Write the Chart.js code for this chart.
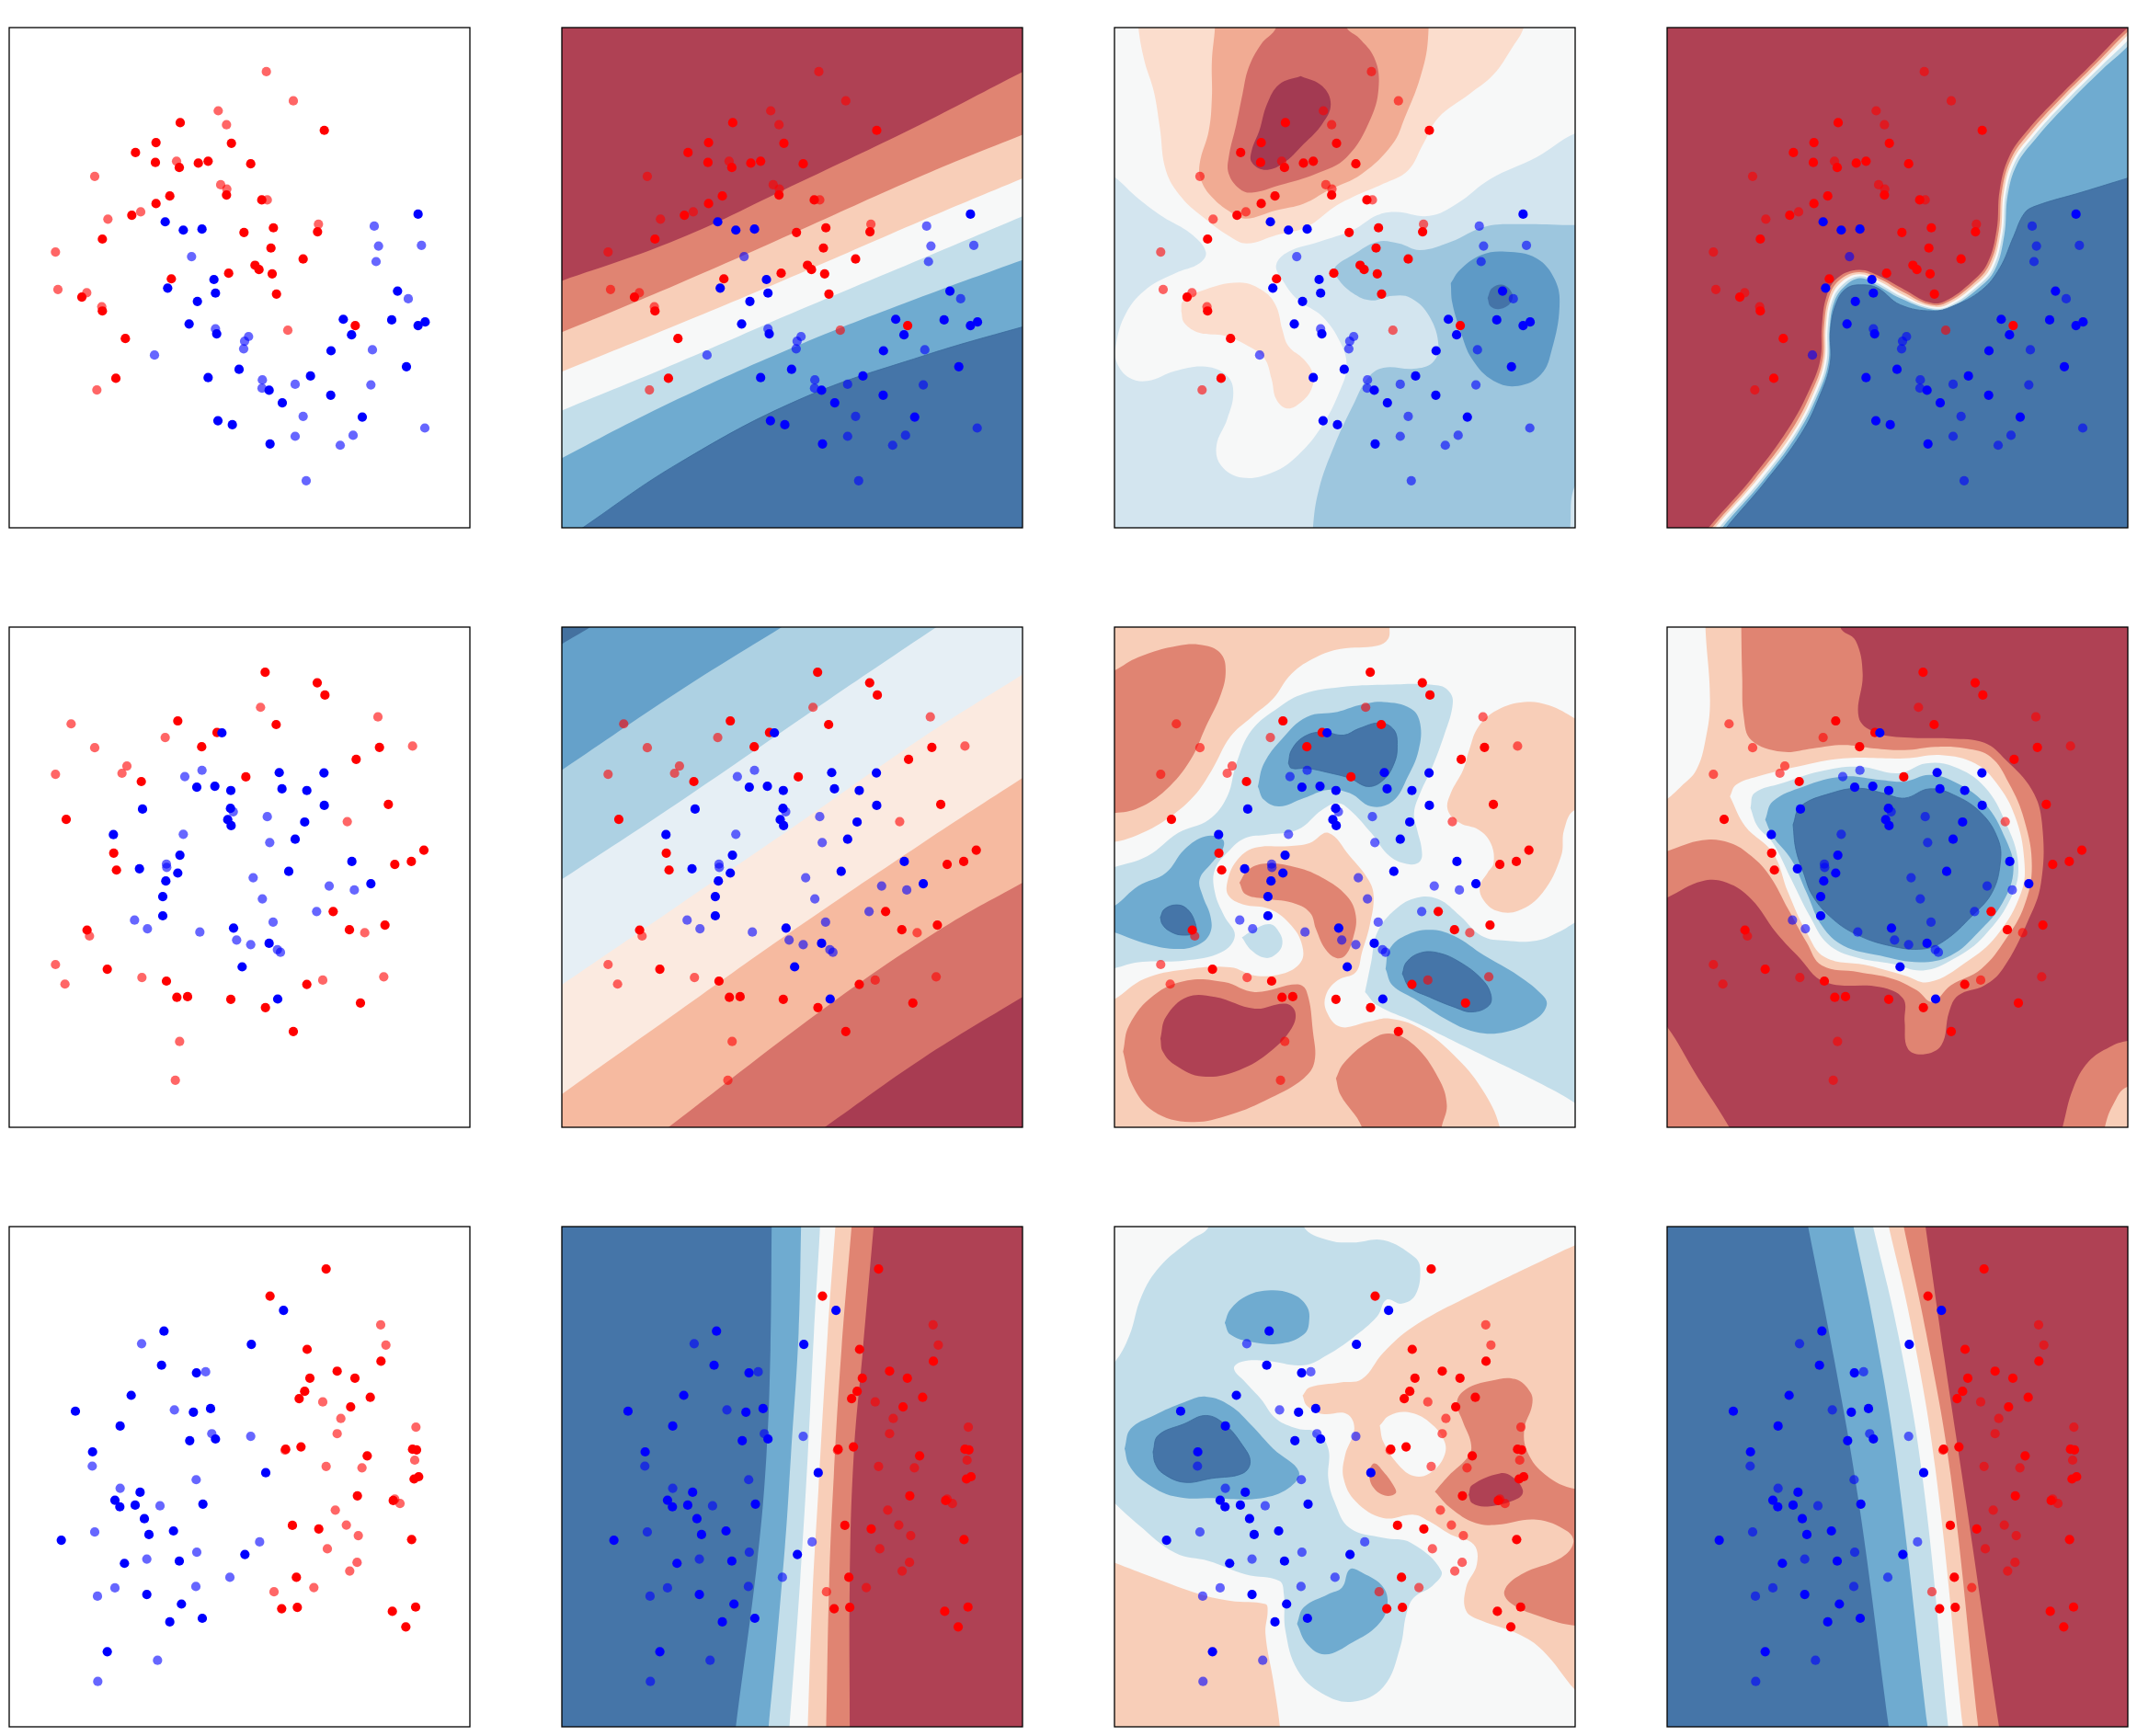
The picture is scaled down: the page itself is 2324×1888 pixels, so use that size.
<!DOCTYPE html>
<html><head><meta charset="utf-8">
<style>html,body{margin:0;padding:0;background:#fff;width:2324px;height:1888px;overflow:hidden}canvas{position:absolute;display:block}</style>
<script src="https://cdn.jsdelivr.net/npm/chart.js@4"></script></head><body>
<script>
// ---- measured points (read in the first-column frame)
const r1RedTrain=[[589,316],[1059,339],[510,376],[756,378],[443,406],[508,436],[586,451],[648,438],[680,432],[819,440],[740,534],[855,549],[555,537],[510,560],[431,595],[335,667],[893,633],[797,647],[1037,645],[885,694],[990,727],[833,746],[846,759],[889,772],[747,770],[560,787],[903,833],[268,842],[335,884],[410,967],[1160,928],[379,1087]];
const r1RedTest=[[870,162],[958,250],[713,280],[740,322],[577,432],[310,478],[721,503],[741,516],[873,549],[460,585],[353,607],[1040,622],[182,706],[190,819],[284,829],[333,871],[940,942],[317,1122]];
const r1BlueTrain=[[1365,592],[540,615],[599,640],[660,637],[699,789],[548,815],[704,830],[645,855],[1298,824],[1121,909],[1279,911],[1365,928],[1388,917],[618,923],[708,953],[1148,956],[1081,1004],[1327,1052],[781,1060],[680,1085],[1014,1080],[879,1123],[1080,1138],[922,1161],[1183,1204],[712,1215],[759,1227],[882,1285]];
const r1BlueTest=[[1222,628],[1236,688],[1376,686],[626,720],[1228,735],[1333,847],[704,938],[812,961],[799,975],[796,998],[1216,1001],[505,1017],[857,1092],[856,1117],[964,1105],[1211,1107],[990,1202],[964,1262],[1153,1259],[1111,1289],[1387,1237],[1000,1396]];
const r2RedTrain=[[866,165],[1036,197],[1061,234],[581,312],[902,323],[709,347],[659,390],[1239,392],[1163,428],[462,495],[803,481],[1268,564],[217,609],[372,711],[381,762],[1384,702],[1343,736],[1289,745],[1088,887],[1141,942],[1257,928],[285,943],[351,1061],[544,1097],[578,1146],[613,1144],[754,1152],[867,1177],[1002,1107],[1177,1163],[958,1249]];
const r2RedTest=[[851,271],[1234,300],[233,321],[540,362],[310,393],[1347,388],[415,448],[399,470],[182,473],[1134,616],[293,961],[1191,951],[182,1047],[213,1106],[464,1086],[1054,1094],[1253,1084],[587,1279],[573,1396]];
const r2BlueTrain=[[725,348],[912,468],[1058,469],[643,512],[702,509],[754,522],[921,517],[1002,522],[466,578],[753,576],[1059,567],[744,610],[755,628],[995,617],[371,655],[964,669],[588,717],[456,758],[581,771],[542,795],[943,766],[1149,736],[1211,803],[532,842],[532,900],[763,937],[879,983],[791,1054],[907,1151]];
const r2BlueTest=[[660,461],[604,480],[762,586],[873,601],[599,654],[881,679],[544,744],[545,754],[827,785],[1075,810],[1157,822],[857,849],[1034,887],[440,913],[482,939],[892,919],[653,949],[773,973],[819,987],[906,1002],[916,1010]];
const r3RedTrain=[[1065,157],[882,239],[1003,400],[1244,436],[1101,466],[1159,487],[1012,487],[995,527],[977,549],[1209,545],[1145,574],[933,702],[983,695],[1199,722],[1347,702],[1360,704],[1367,785],[1352,792],[1167,843],[1284,857],[955,932],[1041,943],[1344,975],[968,1089],[971,1180],[920,1184],[1357,1179],[1281,1192],[1325,1239]];
const r3RedTest=[[1243,326],[1260,387],[1054,559],[1113,609],[1101,655],[1358,635],[931,705],[1354,735],[1182,758],[1065,754],[1289,853],[1306,866],[1095,886],[1131,931],[1170,963],[1069,1003],[1166,1044],[1142,1070],[1025,1120],[895,1133]];
const r3BlueTrain=[[536,345],[926,282],[821,385],[528,448],[642,471],[429,539],[247,587],[632,590],[688,579],[393,632],[620,676],[704,671],[303,710],[868,773],[458,832],[376,856],[392,876],[442,871],[663,868],[472,912],[487,960],[567,949],[201,977],[407,1047],[586,1040],[800,1020],[480,1141],[593,1170],[555,1224],[661,1213],[351,1314]];
const r3BlueTest=[[463,383],[672,468],[570,583],[692,655],[819,663],[302,753],[641,794],[393,820],[523,873],[310,952],[848,982],[643,1013],[480,1034],[751,1089],[640,1117],[376,1121],[319,1146],[515,1340],[320,1404]];

// ---- colours
const DR='#AF4154',SA='#E08472',PE='#F8CEB8',WH='#F7F8F8',LB='#C3DEEA',MB='#6FABD0',DB='#4575A8';

// ---- region outlines, painted in order, each on top of the previous
const SE=[[1700,1700],[-100,1700]];
const c_r1c2=[
 [SA,[[-100,830],[22,793],[400,668],[800,495],[1200,318],[1526,163],[1700,85],...SE]],
 [PE,[[-100,990],[22,948],[400,803],[800,640],[1200,475],[1526,352],[1700,290],...SE]],
 [WH,[[-100,1112],[22,1067],[400,925],[800,770],[1200,610],[1526,484],[1700,417],...SE]],
 [LB,[[-100,1230],[22,1184],[400,1040],[800,880],[1200,725],[1526,598],[1700,530],...SE]],
 [MB,[[-100,1390],[22,1328],[400,1150],[800,985],[1200,840],[1526,730],[1700,672],...SE]],
 [DB,[[20,1585],[90,1538],[400,1345],[800,1150],[1200,1020],[1526,932],[1700,890],...SE]]
];
const c_r1c3=[
 ['#D3E5EF',[[-100,400],[22,480],[100,545],[180,600],[270,650],[320,705],[300,740],[220,770],[130,815],[60,890],[26,990],[30,1040],[70,1085],[130,1095],[220,1065],[320,1052],[390,1080],[410,1130],[390,1210],[355,1290],[370,1350],[440,1387],[540,1370],[620,1320],[700,1230],[760,1120],[780,1050],[760,980],[700,900],[620,850],[570,790],[550,745],[590,705],[690,675],[800,640],[880,595],[940,585],[1050,597],[1140,560],[1250,485],[1400,420],[1526,348],[1700,300],[1700,1700],[-100,1700]]],
 ['#FBDDCD',[[90,-100],[100,29],[120,130],[150,220],[170,330],[190,460],[240,540],[310,600],[400,660],[455,680],[550,655],[650,630],[740,570],[800,540],[900,500],[980,460],[1030,380],[1080,300],[1180,230],[1260,170],[1320,90],[1358,29],[1390,-100]]],
 ['#FBDDCD',[[240,885],[245,855],[300,825],[430,798],[510,825],[550,870],[570,940],[590,990],[640,1030],[670,1075],[665,1120],[630,1160],[585,1178],[550,1150],[535,1090],[510,1025],[450,985],[380,958],[300,950],[250,920],[240,885]]],
 ['#F1AB93',[[355,-100],[350,29],[340,130],[340,240],[330,340],[300,440],[305,490],[340,540],[400,585],[450,605],[550,580],[640,560],[720,520],[830,470],[930,380],[970,300],[1020,180],[1045,70],[1045,-100]]],
 ['#D36D68',[[590,-100],[550,29],[500,80],[460,150],[440,230],[420,320],[395,420],[395,470],[430,515],[470,527],[560,505],[680,470],[780,420],[860,300],[885,200],[870,120],[820,60],[780,29],[740,-100]]],
 ['#A33A52',[[630,175],[560,200],[520,260],[495,340],[470,400],[470,435],[510,458],[570,440],[640,380],[700,320],[728,260],[700,205],[630,175]]],
 ['#9DC6DE',[[665,1700],[670,1538],[690,1420],[740,1290],[800,1170],[850,1085],[900,1055],[1000,1058],[1060,1040],[1080,990],[1050,900],[990,845],[930,838],[860,852],[800,830],[750,785],[740,755],[800,715],[880,675],[950,680],[1020,700],[1120,675],[1230,630],[1350,622],[1526,625],[1600,625],[1600,1350],[1526,1410],[1510,1538],[1500,1700]]],
 ['#5E9AC6',[[1120,800],[1150,760],[1220,715],[1300,705],[1400,725],[1460,790],[1475,870],[1450,1000],[1415,1075],[1340,1110],[1260,1095],[1190,1030],[1150,940],[1125,860],[1120,800]]],
 ['#4473A7',[[1240,845],[1255,815],[1290,805],[1320,830],[1315,860],[1280,878],[1250,870],[1240,845]]]
];
const CR=[[1700,-100],[1700,1700]];
const c_r1c4=[
 [SA,[[60,1660],[160,1538],[300,1390],[420,1240],[490,1120],[525,1030],[530,930],[545,840],[580,785],[650,760],[720,780],[800,820],[880,858],[930,855],[1020,795],[1070,740],[1100,640],[1110,520],[1140,420],[1200,340],[1300,240],[1420,130],[1528,30],...CR]],
 [PE,[[72,1660],[172,1538],[312,1390],[430,1245],[498,1125],[532,1033],[537,930],[552,845],[586,792],[650,767],[716,786],[796,827],[880,864],[934,860],[1025,801],[1076,745],[1107,643],[1117,523],[1147,425],[1207,346],[1306,246],[1426,136],[1528,41],...CR]],
 [WH,[[82,1660],[182,1538],[320,1392],[438,1248],[505,1128],[538,1035],[543,932],[558,849],[592,798],[650,773],[712,792],[792,834],[880,869],[938,865],[1030,806],[1082,750],[1113,646],[1123,527],[1153,430],[1214,352],[1312,252],[1432,142],[1528,52],...CR]],
 [LB,[[95,1660],[195,1538],[330,1394],[445,1250],[512,1130],[545,1037],[549,934],[564,853],[598,804],[652,779],[708,798],[788,840],[882,874],[942,870],[1035,811],[1088,755],[1119,650],[1130,530],[1160,435],[1220,358],[1318,258],[1438,148],[1528,68],...CR]],
 [MB,[[105,1660],[205,1538],[338,1396],[452,1252],[518,1133],[551,1040],[555,937],[570,857],[604,810],[655,785],[706,804],[785,845],[886,879],[946,874],[1040,816],[1094,760],[1125,655],[1136,535],[1166,442],[1228,364],[1325,265],[1445,155],[1528,85],...CR]],
 [DB,[[118,1660],[218,1538],[345,1400],[462,1255],[525,1136],[557,1042],[558,940],[576,862],[610,816],[660,805],[712,815],[785,865],[890,884],[955,870],[1050,822],[1110,755],[1155,660],[1190,590],[1225,568],[1380,525],[1528,483],[1700,435],[1700,1700]]]
];
const c_r2c2=[
 ['#65A1CA',[[-60,130],[22,80],[115,29],[190,-20],[1700,-100],...SE]],
 ['#ADD1E3',[[-100,535],[22,460],[400,225],[740,29],[860,-40],[1700,-100],...SE]],
 ['#E6EFF5',[[-100,865],[22,790],[400,560],[890,250],[1245,29],[1400,-65],[1700,-100],...SE]],
 ['#FBEAE0',[[-100,1185],[22,1108],[400,870],[800,618],[1200,362],[1526,172],[1700,70],...SE]],
 ['#F6BAA0',[[-100,1518],[22,1438],[400,1190],[760,955],[1200,680],[1526,484],[1700,380],...SE]],
 ['#D7736A',[[250,1622],[370,1538],[900,1165],[1250,945],[1526,800],[1700,715],[1700,1700]]],
 ['#A83C52',[[760,1616],[880,1538],[1200,1330],[1526,1145],[1700,1050],[1700,1700]]]
];
const c_r2c3=[
 [PE,[[-100,-100],[920,-100],[920,29],[915,65],[880,85],[760,95],[680,120],[600,170],[540,245],[470,300],[400,360],[340,460],[280,540],[190,610],[100,655],[22,677],[-100,690]]],
 [SA,[[-100,210],[22,160],[100,120],[230,85],[320,85],[370,110],[385,160],[370,230],[320,330],[270,430],[190,520],[100,575],[22,590],[-100,590]]],
 [PE,[[1700,400],[1526,305],[1440,265],[1360,255],[1270,280],[1210,330],[1180,400],[1160,460],[1120,530],[1110,580],[1150,620],[1210,640],[1250,680],[1260,740],[1240,770],[1215,810],[1225,850],[1270,885],[1340,885],[1420,830],[1480,720],[1490,640],[1526,580],[1700,540]]],
 [LB,[[-100,785],[22,753],[130,720],[230,650],[330,610],[390,540],[420,440],[470,340],[560,270],[640,230],[760,210],[900,203],[1080,205],[1120,230],[1125,270],[1100,350],[1060,450],[1020,530],[1000,590],[1010,640],[1025,700],[1020,735],[985,745],[920,720],[860,650],[790,580],[750,560],[700,580],[620,640],[520,655],[450,665],[400,700],[350,760],[350,830],[380,900],[415,960],[370,1010],[250,1035],[100,1040],[22,1058],[-100,1080]]],
 [MB,[[-100,930],[22,870],[100,810],[190,770],[250,700],[320,660],[375,670],[375,700],[340,740],[300,790],[310,840],[335,900],[335,950],[300,985],[230,1000],[130,985],[22,950],[-100,910]]],
 [DB,[[172,905],[185,880],[225,867],[260,880],[285,920],[285,950],[240,958],[200,945],[178,925],[172,905]]],
 [MB,[[490,510],[510,440],[570,365],[650,300],[750,285],[820,265],[900,255],[990,275],[1020,320],[1015,400],[980,480],[930,555],[860,570],[790,530],[720,520],[640,545],[560,570],[510,550],[490,510]]],
 [DB,[[590,440],[600,400],[640,360],[700,345],[770,355],[820,335],[890,318],[935,340],[945,390],[935,440],[900,490],[850,510],[790,485],[720,468],[650,455],[600,455],[590,440]]],
 [LB,[[438,965],[480,940],[530,925],[560,950],[570,985],[550,1015],[515,1027],[470,1005],[438,965]]],
 [LB,[[840,1130],[860,1040],[880,950],[940,880],[1010,845],[1080,850],[1150,900],[1220,960],[1300,975],[1400,975],[1470,950],[1526,920],[1600,880],[1700,1000],[1700,1580],[1526,1465],[1400,1400],[1200,1310],[1000,1220],[880,1170],[840,1130]]],
 [MB,[[907,1060],[920,1000],[970,960],[1050,942],[1130,960],[1230,1020],[1340,1080],[1420,1140],[1433,1170],[1400,1210],[1300,1250],[1200,1250],[1100,1210],[1000,1150],[930,1110],[907,1060]]],
 [DB,[[962,1075],[975,1040],[1020,1012],[1080,1012],[1150,1040],[1220,1090],[1250,1135],[1245,1170],[1190,1190],[1130,1175],[1050,1145],[985,1115],[962,1075]]],
 [PE,[[-100,1215],[22,1152],[120,1090],[250,1062],[400,1055],[480,1080],[570,1075],[630,1040],[635,990],[600,930],[530,880],[440,865],[395,840],[390,800],[420,735],[480,695],[590,690],[660,680],[720,650],[790,720],[850,790],[868,840],[855,930],[830,1010],[810,1070],[750,1095],[712,1140],[715,1190],[760,1235],[850,1220],[920,1210],[1020,1240],[1130,1320],[1220,1420],[1280,1538],[1300,1700],[-100,1700]]],
 [SA,[[430,800],[460,760],[520,742],[620,755],[700,785],[780,840],[810,900],[800,970],[775,1020],[745,1027],[710,1000],[680,940],[660,890],[600,860],[510,848],[450,835],[430,800]]],
 [SA,[[50,1310],[70,1230],[150,1140],[260,1095],[380,1100],[480,1130],[620,1107],[650,1130],[670,1250],[675,1340],[640,1390],[530,1450],[400,1500],[270,1522],[150,1490],[80,1410],[50,1310]]],
 [DR,[[172,1270],[190,1205],[260,1145],[350,1145],[480,1180],[580,1165],[612,1190],[600,1240],[530,1310],[430,1365],[310,1385],[220,1350],[180,1310],[172,1270]]],
 [SA,[[745,1390],[770,1345],[850,1280],[920,1255],[1000,1290],[1080,1390],[1107,1470],[1090,1538],[1060,1700],[870,1700],[830,1538],[760,1440],[745,1390]]]
];
const c_r2c4=[
 [SA,[[590,-100],[590,29],[640,70],[663,170],[650,300],[700,345],[800,362],[950,365],[1060,378],[1130,430],[1215,520],[1248,620],[1245,800],[1200,920],[1120,1060],[1060,1110],[975,1140],[945,1190],[920,1290],[860,1318],[810,1300],[800,1220],[795,1150],[720,1115],[540,1100],[450,1020],[380,950],[300,850],[220,800],[140,795],[25,845],[-100,900],[-100,-100]]],
 [SA,[[-100,1100],[25,1235],[120,1380],[228,1538],[320,1700],[-100,1700]]],
 [SA,[[1270,1700],[1315,1538],[1350,1420],[1400,1340],[1470,1295],[1528,1277],[1700,1260],[1700,1700]]],
 [PE,[[1420,1700],[1453,1538],[1480,1470],[1528,1415],[1700,1400],[1700,1700]]],
 [PE,[[267,-100],[267,29],[270,180],[275,300],[300,370],[400,405],[500,395],[600,385],[700,395],[800,400],[900,390],[1000,395],[1080,420],[1140,500],[1190,610],[1215,750],[1190,870],[1130,970],[1050,1060],[950,1110],[890,1160],[840,1125],[760,1090],[650,1070],[530,1050],[480,980],[420,880],[360,780],[300,720],[230,680],[140,672],[25,705],[-100,740],[-100,-100]]],
 [WH,[[-100,-100],[150,-100],[150,29],[165,250],[150,370],[120,460],[70,510],[25,548],[-100,640]]],
 [WH,[[230,540],[250,505],[320,480],[450,450],[600,425],[800,425],[920,415],[1030,440],[1100,500],[1160,600],[1190,730],[1180,830],[1100,960],[1000,1040],[880,1100],[800,1080],[680,1050],[540,1025],[480,950],[420,830],[370,710],[280,630],[230,540]]],
 [LB,[[297,575],[310,530],[400,500],[520,465],[650,450],[780,470],[870,440],[960,450],[1060,510],[1130,620],[1170,740],[1150,840],[1060,960],[960,1030],[860,1065],[760,1045],[640,1025],[550,985],[490,900],[430,790],[370,680],[320,630],[297,575]]],
 [MB,[[345,610],[370,555],[470,510],[600,480],[720,490],[800,495],[880,475],[960,495],[1060,560],[1130,670],[1155,760],[1120,860],[1040,950],[950,1020],[850,1040],[720,1020],[600,990],[530,930],[480,830],[430,730],[370,660],[345,610]]],
 [DB,[[436,625],[460,570],[560,530],[650,515],[730,530],[800,545],[880,517],[960,535],[1050,590],[1105,670],[1112,740],[1085,830],[1020,900],[930,975],[860,1000],[750,990],[640,955],[560,905],[500,840],[470,770],[445,700],[436,625]]]
];
const c_r3c2=[
 [MB,[[708,-100],[707,29],[703,400],[690,720],[660,1040],[590,1541],[570,1700],[1700,1700],[1700,-100]]],
 [LB,[[806,-100],[803,29],[795,350],[770,720],[750,1000],[697,1541],[675,1700],[1700,1700],[1700,-100]]],
 [WH,[[870,-100],[865,29],[845,350],[825,720],[800,1100],[765,1541],[750,1700],[1700,1700],[1700,-100]]],
 [PE,[[925,-100],[915,29],[890,350],[860,820],[840,1150],[825,1541],[820,1700],[1700,1700],[1700,-100]]],
 [SA,[[980,-100],[968,29],[935,400],[910,780],[895,1100],[885,1541],[880,1700],[1700,1700],[1700,-100]]],
 [DR,[[1052,-100],[1040,29],[1005,400],[975,720],[962,1100],[962,1541],[962,1700],[1700,1700],[1700,-100]]]
];
const c_r3c4=[
 [MB,[[458,-100],[485,29],[570,430],[650,860],[748,1541],[772,1700],[1700,1700],[1700,-100]]],
 [LB,[[605,-100],[633,29],[700,330],[770,720],[875,1541],[900,1700],[1700,1700],[1700,-100]]],
 [WH,[[665,-100],[697,29],[780,360],[860,800],[942,1541],[962,1700],[1700,1700],[1700,-100]]],
 [PE,[[716,-100],[748,29],[820,320],[900,760],[990,1541],[1010,1700],[1700,1700],[1700,-100]]],
 [SA,[[770,-100],[797,29],[870,350],[950,780],[1040,1541],[1062,1700],[1700,1700],[1700,-100]]],
 [DR,[[848,-100],[868,29],[930,430],[1000,860],[1108,1541],[1138,1700],[1700,1700],[1700,-100]]]
];
const c_r3c3=[
 [LB,[[-100,560],[22,440],[70,360],[110,240],[170,150],[270,70],[330,29],[350,-80],[630,-80],[640,29],[720,70],[800,77],[900,70],[1000,120],[1020,155],[1005,235],[960,262],[910,250],[880,300],[800,365],[720,415],[640,448],[520,435],[440,437],[412,458],[450,500],[500,550],[550,610],[620,640],[680,650],[720,700],[720,790],[740,860],[790,940],[900,970],[990,985],[1089,1070],[1060,1115],[1000,1150],[975,1200],[955,1300],[900,1420],[800,1465],[700,1440],[620,1370],[580,1250],[575,1140],[560,1100],[450,1080],[330,1040],[220,1015],[100,930],[22,865],[-100,760]]],
 [MB,[[382,320],[400,280],[450,240],[520,222],[600,232],[650,270],[657,320],[640,355],[570,382],[470,378],[400,355],[382,320]]],
 [MB,[[55,700],[75,640],[150,600],[250,560],[320,543],[400,570],[470,630],[540,700],[624,770],[590,820],[500,850],[350,850],[220,845],[120,800],[70,750],[55,700]]],
 [DB,[[148,710],[165,660],[250,625],[320,600],[380,625],[440,690],[465,740],[440,775],[340,790],[250,802],[180,775],[155,745],[148,710]]],
 [MB,[[618,1230],[640,1180],[720,1140],[765,1120],[790,1065],[830,1075],[900,1120],[912,1180],[880,1235],[800,1285],[710,1322],[650,1290],[618,1230]]],
 [PE,[[636,540],[660,515],[760,500],[830,490],[900,410],[1000,330],[1200,230],[1400,140],[1526,85],[1700,20],[1700,1600],[1526,1430],[1420,1310],[1340,1260],[1220,1220],[1170,1190],[1170,1120],[1205,1050],[1195,990],[1120,960],[1050,920],[1000,900],[900,910],[810,860],[770,790],[775,720],[805,640],[780,595],[700,595],[650,570],[636,540]]],
 [PE,[[-100,1000],[22,1045],[150,1090],[300,1140],[400,1160],[515,1170],[522,1190],[515,1260],[540,1400],[562,1541],[575,1700],[-100,1700]]],
 [WH,[[888,630],[920,600],[980,590],[1050,620],[1100,680],[1095,730],[1050,775],[1000,783],[950,750],[900,680],[888,630]]],
 [SA,[[1068,830],[1110,785],[1180,720],[1185,680],[1160,620],[1140,560],[1170,520],[1250,495],[1330,490],[1380,530],[1385,570],[1360,640],[1370,710],[1430,780],[1526,822],[1700,830],[1700,1240],[1526,1235],[1420,1210],[1320,1170],[1295,1130],[1350,1080],[1480,1030],[1520,985],[1500,950],[1400,915],[1270,930],[1200,925],[1120,880],[1068,830]]],
 [SA,[[850,770],[870,745],[900,770],[935,815],[940,835],[905,842],[865,815],[850,770]]],
 [DR,[[1178,840],[1190,810],[1280,775],[1320,785],[1355,825],[1340,850],[1240,875],[1190,865],[1178,840]]]
];

// ---- panels
const rowPoints=[[r1RedTrain,r1RedTest,r1BlueTrain,r1BlueTest],[r2RedTrain,r2RedTest,r2BlueTrain,r2BlueTest],[r3RedTrain,r3RedTest,r3BlueTrain,r3BlueTest]];
const panelRegions=[[null,c_r1c2,c_r1c3,c_r1c4],[null,c_r2c2,c_r2c3,c_r2c4],[null,c_r3c2,c_r3c3,c_r3c4]];
const panelBase=[[null,DR,WH,DR],[null,'#44719F',WH,DR],[null,DB,WH,DB]];
const xFrames=[[31,1534],[22,1526],[22,1526],[25,1528]];
const yFrames=[[29,1538],[29,1538],[29,1541]];
const colLeft=[10,611,1212,1813],rowTop=[30,682,1334];
const plotW=501,plotH=544,pad=2;

const frame={id:'frame',afterDraw(c){const a=c.chartArea,g=c.ctx;g.save();g.strokeStyle='#000';g.lineWidth=1.3;g.strokeRect(a.left,a.top,a.right-a.left,a.bottom-a.top);g.restore();}};

rowTop.forEach((top,r)=>colLeft.forEach((left,k)=>{
  const cv=document.createElement('canvas');
  cv.style.left=(left-pad)+'px';cv.style.top=(top-pad)+'px';
  cv.width=plotW+2*pad;cv.height=plotH+2*pad;
  cv.style.width=cv.width+'px';cv.style.height=cv.height+'px';
  document.body.appendChild(cv);
  const [x0,x1]=xFrames[k],[y0,y1]=yFrames[r];
  const dx=x0-xFrames[0][0];
  const ds=[];
  const regions=panelRegions[r][k]||[];
  const n=regions.length;
  regions.forEach(([col,pts],i)=>ds.push({data:pts.map(([x,y])=>({x,y})),showLine:true,fill:'shape',backgroundColor:col,borderColor:'#3A6A9C',borderWidth:col===DB?0.8:0,pointRadius:0,tension:0.4,order:10+n-i}));
  const [rt,rs,bt,bs]=rowPoints[r];
  const pt=(arr,col,o)=>ds.push({data:arr.map(([x,y])=>({x:x+dx,y})),backgroundColor:col,borderWidth:0,pointRadius:5.1,showLine:false,order:o});
  pt(bt,'#0000FF',0);pt(rt,'#FF0000',1);pt(bs,'rgba(0,0,255,0.6)',2);pt(rs,'rgba(255,0,0,0.6)',3);
  const bgPlugin={id:'bg',beforeDatasetsDraw(c){const b=panelBase[r][k];if(!b)return;const a=c.chartArea,g=c.ctx;g.save();g.fillStyle=b;g.fillRect(a.left,a.top,a.right-a.left,a.bottom-a.top);g.restore();}};
  new Chart(cv,{type:'scatter',data:{datasets:ds},plugins:[bgPlugin,frame],options:{
    responsive:false,animation:false,devicePixelRatio:1,layout:{padding:pad,autoPadding:false},
    plugins:{legend:{display:false},tooltip:{enabled:false},title:{display:false}},
    elements:{line:{capBezierPoints:false}},events:[],
    scales:{x:{type:'linear',display:false,min:x0,max:x1},y:{type:'linear',display:false,min:y0,max:y1,reverse:true}}
  }});
}));
</script></body></html>
